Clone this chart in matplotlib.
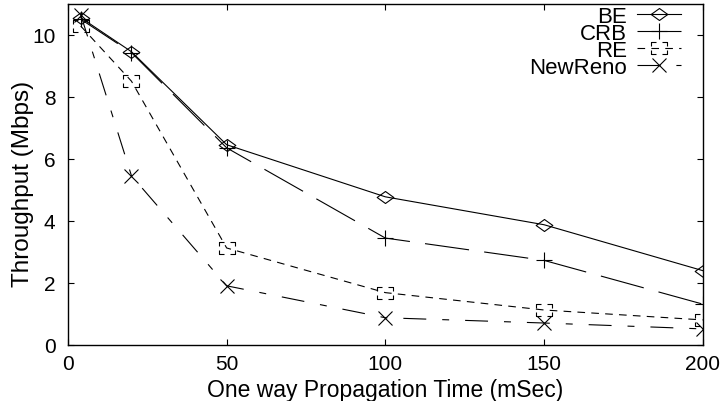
import matplotlib
matplotlib.use("Agg")
import matplotlib.pyplot as plt
from matplotlib.path import Path

plt.rcParams['font.family'] = ['Liberation Sans', 'DejaVu Sans']
plt.rcParams['lines.scale_dashes'] = False

delay = [4, 20, 50, 100, 150, 200]
be = [10.55, 9.45, 6.45, 4.77, 3.87, 2.39]
crb = [10.5, 9.42, 6.35, 3.44, 2.72, 1.31]
re = [10.28, 8.5, 3.12, 1.68, 1.12, 0.8]
newreno = [10.65, 5.45, 1.9, 0.87, 0.7, 0.51]

# flat diamond and a broken square, like the postscript point types
diamond = Path([(-1, 0), (0, 0.72), (1, 0), (0, -0.72), (-1, 0)],
               [Path.MOVETO, Path.LINETO, Path.LINETO, Path.LINETO, Path.CLOSEPOLY])
sq_verts = []
sq_codes = []
for (x0, y0), (x1, y1) in [((-1, 0.75), (-0.35, 0.75)), ((-1, 0.75), (-1, 0.2)),
                           ((0.35, 0.75), (1, 0.75)), ((1, 0.75), (1, 0.2)),
                           ((-1, -0.75), (-0.35, -0.75)), ((-1, -0.75), (-1, -0.2)),
                           ((0.35, -0.75), (1, -0.75)), ((1, -0.75), (1, -0.2))]:
    sq_verts += [(x0, y0), (x1, y1)]
    sq_codes += [Path.MOVETO, Path.LINETO]
square = Path(sq_verts, sq_codes)

fig = plt.figure(figsize=(7.24, 4.02), dpi=100)
ax = fig.add_axes([0.0939, 0.140, 0.8767, 0.8484])

lw = 0.8
ax.plot(delay, be, color='k', lw=lw, marker=diamond, ms=12, mew=lw, mfc='none', label='BE')
ax.plot(delay, crb, color='k', lw=lw, dashes=(32, 11), marker='+', ms=11, mew=lw, label='CRB')
ax.plot(delay, re, color='k', lw=lw, dashes=(5.5, 4.5), marker=square, ms=12, mew=lw, mfc='none', label='RE')
ax.plot(delay, newreno, color='k', lw=lw, dashes=(16.5, 11.5, 5, 11.5), marker='x', ms=10, mew=lw, label='NewReno')

ax.set_xlim(0, 200)
ax.set_ylim(0, 11)
ax.set_xticks([0, 50, 100, 150, 200])
ax.set_yticks([0, 2, 4, 6, 8, 10])
ax.tick_params(direction='in', length=4, width=0.8, top=True, right=True, labelsize=15)
ax.tick_params(axis='y', pad=9)
ax.tick_params(axis='x', pad=7)
for s in ax.spines.values():
    s.set_linewidth(1.0)

ax.set_xlabel("One way Propagation Time (mSec)", fontsize=16.5, labelpad=3)
ax.set_ylabel("Throughput (Mbps)", fontsize=17.5)
ax.yaxis.set_label_coords(-0.054, 0.474)

ax.legend(loc='upper right', bbox_to_anchor=(0.97, 1.0), frameon=False, markerfirst=False,
          fontsize=16, labelspacing=-0.18, handlelength=2.0, handletextpad=0.45,
          borderpad=0.1, borderaxespad=0)

fig.savefig('out.png', dpi=100)
